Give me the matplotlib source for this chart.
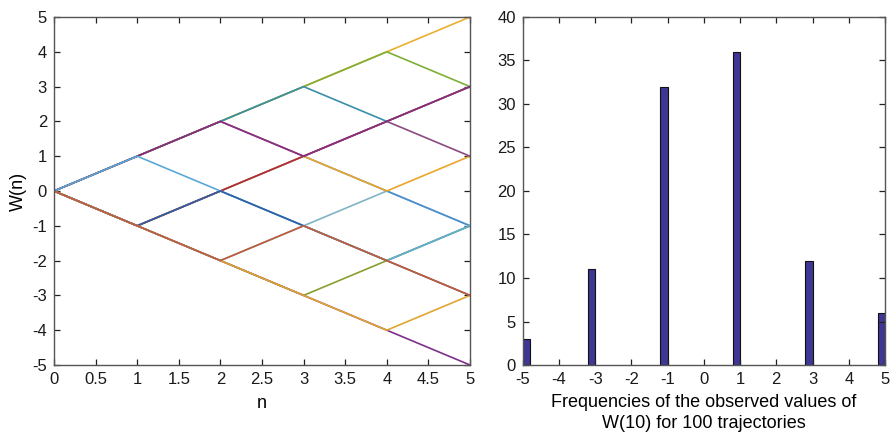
import matplotlib
matplotlib.use("Agg")
import matplotlib.pyplot as plt
import numpy as np

plt.rcParams['font.family'] = ['Liberation Sans', 'DejaVu Sans']
plt.rcParams['axes.unicode_minus'] = False

# Trajectories W(n), n = 0..5, in drawing order (later ones drawn on top)
n_steps = [0, 1, 2, 3, 4, 5]
trajectories = [
    [0, 1, 2, 3, 4, 5],
    [0, 1, 2, 3, 4, 3],
    [0, 1, 2, 3, 2, 3],
    [0, -1, 0, -1, 0, -1],
    [0, -1, 0, 1, 0, -1],
    [0, -1, 0, 1, 0, 1],
    [0, -1, 0, 1, 2, 3],
    [0, 1, 2, 1, 2, 1],
    [0, 1, 2, 1, 2, 3],
    [0, 1, 0, -1, -2, -1],
    [0, -1, 0, -1, -2, -3],
    [0, -1, -2, -3, -2, -1],
    [0, -1, -2, -3, -4, -5],
    [0, -1, -2, -3, -4, -3],
    [0, -1, -2, -1, -2, -1],
    [0, -1, -2, -1, -2, -3],
]
traj_colors = [
    '#E8B030', '#7FAF35', '#3A8FA8', '#80B4C4', '#4A8FD0', '#EBA52A',
    '#B22A3A', '#8A4A80', '#8A2F7E', '#5AA8D8', '#2F5FA8', '#86A030',
    '#7E2F8E', '#E0A530', '#5FB0D8', '#C65A35',
]

# Histogram of final values
hist_values = [-5, -3, -1, 1, 3, 5]
hist_counts = [3, 11, 32, 36, 12, 6]
bin_width = 0.2

fig = plt.figure(figsize=(8.93, 4.37), dpi=100)
ax1 = fig.add_axes([54/893, 1-365/437, 416/893, 348/437])
ax2 = fig.add_axes([522.7/893, 1-365/437, 362.3/893, 348/437])

for traj, c in zip(trajectories, traj_colors):
    ax1.plot(n_steps, traj, color=c, lw=1.2)

ax1.set_xlim(0, 5)
ax1.set_ylim(-5, 5)
ax1.set_xticks(np.arange(0, 5.01, 0.5))
ax1.set_xticklabels(['0', '0.5', '1', '1.5', '2', '2.5', '3', '3.5', '4', '4.5', '5'])
ax1.set_yticks(np.arange(-5, 6, 1))
ax1.set_xlabel('n', fontsize=13, labelpad=6)
ax1.set_ylabel('W(n)', fontsize=13, labelpad=4)

lefts = [max(v - bin_width, -5) for v in hist_values]
ax2.bar(lefts, hist_counts, width=bin_width, align='edge',
        color='#3F3794', edgecolor='#111111', linewidth=0.8)
ax2.set_xlim(-5, 5)
ax2.set_ylim(0, 40)
ax2.set_xticks(np.arange(-5, 6, 1))
ax2.set_yticks(np.arange(0, 41, 5))
ax2.set_xlabel('Frequencies of the observed values of\nW(10) for 100 trajectories',
               fontsize=13, labelpad=5, linespacing=1.3)

for ax in (ax1, ax2):
    for s in ax.spines.values():
        s.set_color('#555555')
        s.set_linewidth(1.0)
    ax.tick_params(direction='in', top=True, right=True, length=4,
                   width=0.9, color='#222222', labelsize=12, pad=5,
                   labelcolor='#1a1a1a')

fig.savefig('out.png', dpi=100)
